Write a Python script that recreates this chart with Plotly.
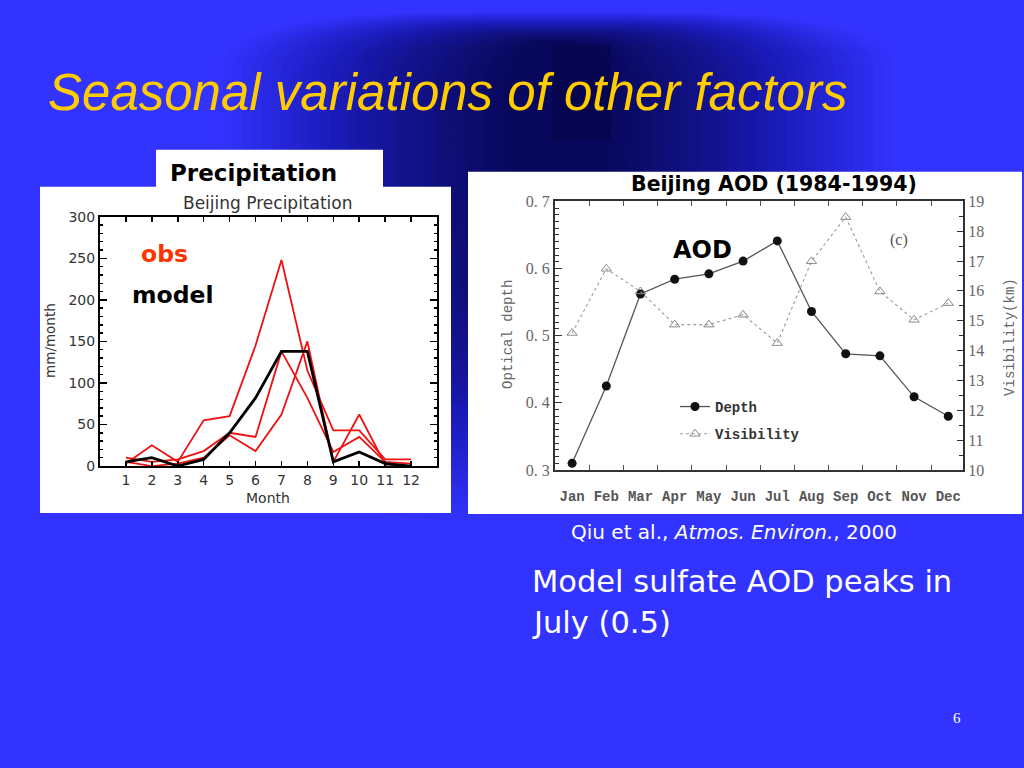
import plotly.graph_objects as go

# ---------------- data ----------------
months = list(range(1, 13))
precip_model = [5, 10, 0, 8, 40, 82, 138, 138, 5, 17, 3, 0]
precip_obs_a = [3, 25, 5, 55, 60, 145, 248, 115, 43, 43, 8, 8]
precip_obs_b = [10, 5, 8, 18, 40, 35, 138, 82, 17, 35, 5, 3]
precip_obs_c = [5, 0, 3, 10, 37, 18, 62, 150, 5, 62, 2, 0]
precip_yticks = [0, 50, 100, 150, 200, 250, 300]

month_names = ["Jan", "Feb", "Mar", "Apr", "May", "Jun",
               "Jul", "Aug", "Sep", "Oct", "Nov", "Dec"]
aod_depth = [0.310, 0.425, 0.562, 0.584, 0.592, 0.611,
             0.641, 0.536, 0.473, 0.470, 0.409, 0.380]
visibility_km = [14.59, 16.74, 15.98, 14.87, 14.87, 15.20,
                 14.25, 16.99, 18.47, 15.98, 15.03, 15.59]
aod_yticks = [0.3, 0.4, 0.5, 0.6, 0.7]
aod_yticktext = ["0. 3", "0. 4", "0. 5", "0. 6", "0. 7"]
vis_ticks = list(range(10, 20))

W, H = 1024, 768
# vertical mapping calibrated against the rendered page
Y0, YH = 8.4, 750.3
def px(x):
    return x / W
def py(y):
    return 1 - (y - Y0) / YH

BLUE = "#3333ff"
fig = go.Figure()

# ---------------- precipitation ----------------
for obs in [precip_obs_a, precip_obs_b, precip_obs_c]:
    fig.add_trace(go.Scatter(x=months, y=obs, mode="lines",
                             line=dict(color="#ee1111", width=1.8),
                             showlegend=False, cliponaxis=False, hoverinfo="skip",
                             xaxis="x", yaxis="y"))
fig.add_trace(go.Scatter(x=months, y=precip_model, mode="lines",
                         line=dict(color="black", width=2.8),
                         showlegend=False, cliponaxis=False, hoverinfo="skip",
                         xaxis="x", yaxis="y"))

# ---------------- AOD ----------------
fig.add_trace(go.Scatter(x=months, y=aod_depth, mode="lines+markers", name="Depth",
                         legendgroup="d", hoverinfo="skip",
                         line=dict(color="#555555", width=1.3),
                         marker=dict(symbol="circle", size=9, color="#111111"),
                         xaxis="x2", yaxis="y2", cliponaxis=False))
fig.add_trace(go.Scatter(x=months, y=visibility_km, mode="lines+markers", name="Visibility",
                         legendgroup="v", hoverinfo="skip",
                         line=dict(color="#9a9a9a", width=1.1, dash="dot"),
                         marker=dict(symbol="triangle-up-open", size=9, color="#8a8a8a",
                                     line=dict(width=1)),
                         xaxis="x2", yaxis="y3", cliponaxis=False))

# ---------------- background shapes ----------------
shapes = []

def rounded_path(x0, x1, top, bottom, rxt, ryt, rxb, ryb):
    P = lambda x, y: f"{px(x):.5f},{py(y):.5f}"
    return ("M " + P(x0, top + ryt) +
            " Q " + P(x0, top) + " " + P(x0 + rxt, top) +
            " L " + P(x1 - rxt, top) +
            " Q " + P(x1, top) + " " + P(x1, top + ryt) +
            " L " + P(x1, bottom - ryb) +
            " Q " + P(x1, bottom) + " " + P(x1 - rxb, bottom) +
            " L " + P(x0 + rxb, bottom) +
            " Q " + P(x0, bottom) + " " + P(x0, bottom - ryb) + " Z")

N = 30
cx = 558
for k in range(N):
    t = k / (N - 1)
    hw = 335 - 280 * t
    top = 12 + 30 * t
    bottom = 520 - 250 * t
    op = 0.022 + 0.036 * t
    shapes.append(dict(type="path", xref="paper", yref="paper",
                       path=rounded_path(cx - hw, cx + hw, top, bottom,
                                         hw * 0.75, 55, hw * 0.7, 200),
                       fillcolor="#000022", opacity=op, line=dict(width=0),
                       layer="below"))
shapes.append(dict(type="rect", xref="paper", yref="paper",
                   x0=px(552), x1=px(611), y0=py(140), y1=py(45),
                   fillcolor="#000033", opacity=0.3, line=dict(width=0), layer="below"))
# white boxes
shapes.append(dict(type="rect", xref="paper", yref="paper",
                   x0=px(40), x1=px(451), y0=py(513), y1=py(187),
                   fillcolor="white", line=dict(width=0), layer="below"))
shapes.append(dict(type="rect", xref="paper", yref="paper",
                   x0=px(156), x1=px(383), y0=py(190), y1=py(150),
                   fillcolor="white", line=dict(width=0), layer="below"))
shapes.append(dict(type="rect", xref="paper", yref="paper",
                   x0=px(468), x1=px(1022), y0=py(514), y1=py(172),
                   fillcolor="white", line=dict(width=0), layer="below"))

# ---------------- annotations ----------------
ann = []
def text(x, y, s, size, color, family="DejaVu Sans", bold=False, italic=False,
         xanchor="center", angle=0):
    ann.append(dict(x=px(x), y=py(y), xref="paper", yref="paper", text=s,
                    showarrow=False, xanchor=xanchor, yanchor="middle", textangle=angle,
                    font=dict(size=size, color=color, family=family,
                              weight="bold" if bold else "normal",
                              style="italic" if italic else "normal")))

text(46, 93, "Seasonal variations of other factors", 51, "#ffcc00",
     family="Liberation Sans", italic=True, xanchor="left")
text(253, 173, "Precipitation", 23, "black", bold=True)
text(268, 203, "Beijing Precipitation", 17, "#333333")
text(164, 254, "obs", 23.5, "#ff3300", bold=True)
text(172, 295, "model", 23.5, "black", bold=True)
text(50, 341, "mm/month", 13.5, "#333333", angle=-90)
text(268, 498, "Month", 14, "#333333")

text(774, 184, "Beijing AOD (1984-1994)", 20.5, "black", bold=True)
text(702, 250, "AOD", 24, "black", bold=True)
text(899, 240, "(c)", 16, "#555555", family="Liberation Serif")
text(508, 335, "Optical depth", 14, "#666666", family="Liberation Mono", angle=-90)
text(1010, 337, "Visibility(km)", 14, "#666666", family="Liberation Mono", angle=-90)

text(734, 532, "Qiu et al., <i>Atmos. Environ.</i>, 2000", 20, "white")
text(530, 581, "Model sulfate AOD peaks in", 30.5, "white", xanchor="left")
text(530, 622, "July (0.5)", 30.5, "white", xanchor="left")
text(957, 718, "6", 15, "white", family="Liberation Serif")

axis_font = dict(family="DejaVu Sans", size=14, color="#333333")

fig.update_layout(
    width=W, height=H, margin=dict(l=0, r=0, t=0, b=0),
    paper_bgcolor=BLUE, plot_bgcolor="white", hovermode=False,
    shapes=shapes, annotations=ann,
    xaxis=dict(domain=[px(100), px(437)], range=[0, 13], anchor="y",
               tickmode="array", tickvals=months, ticks="inside", ticklen=5,
               tickwidth=1.5, tickcolor="black", mirror="allticks", showline=True,
               linewidth=2, linecolor="black", showgrid=False, zeroline=False,
               tickfont=axis_font),
    yaxis=dict(domain=[py(466), py(217)], range=[0, 300], anchor="x",
               tickmode="array", tickvals=precip_yticks, ticks="inside", ticklen=7,
               tickwidth=1.5, tickcolor="black", mirror="allticks", showline=True,
               linewidth=2, linecolor="black", showgrid=False, zeroline=False,
               tickfont=axis_font,
               minor=dict(dtick=10, ticks="inside", ticklen=3, tickcolor="black",
                          showgrid=False)),
    xaxis2=dict(domain=[px(555), px(963)], range=[0.5, 12.43], anchor="y2",
                tickmode="array", tickvals=months, ticktext=month_names, ticks="",
                mirror="allticks", showline=True, linewidth=2, linecolor="#333333",
                showgrid=False, zeroline=False, ticklabelstandoff=12,
                tickfont=dict(family="Liberation Mono", size=14, color="#555555",
                              weight="bold"),
                minor=dict(tickmode="array", tickvals=[m + 0.5 for m in months[:-1]],
                           ticks="inside", ticklen=5, tickcolor="#555555",
                           showgrid=False)),
    yaxis2=dict(domain=[py(470), py(201.5)], range=[0.3, 0.7], anchor="x2",
                tickmode="array", tickvals=aod_yticks, ticktext=aod_yticktext,
                ticks="inside", ticklen=7, tickcolor="#333333", showline=True,
                linewidth=2, linecolor="#333333", showgrid=False, zeroline=False,
                tickfont=dict(family="Liberation Serif", size=16, color="#666666"),
                minor=dict(dtick=0.01, ticks="inside", ticklen=4, tickcolor="#333333",
                           showgrid=False)),
    yaxis3=dict(range=[10, 19], overlaying="y2", side="right", anchor="x2",
                tickmode="array", tickvals=vis_ticks, ticks="inside", ticklen=6,
                tickcolor="#333333", showline=True, linewidth=2, linecolor="#333333",
                showgrid=False, zeroline=False,
                tickfont=dict(family="Liberation Serif", size=16, color="#666666"),
                minor=dict(dtick=0.5, ticks="inside", ticklen=4, tickcolor="#333333",
                           showgrid=False)),
    legend=dict(x=px(675), y=py(391), xanchor="left", yanchor="top",
                bgcolor="rgba(0,0,0,0)", itemwidth=30, tracegroupgap=6,
                font=dict(family="Liberation Mono", size=14, color="#333333",
                          weight="bold")),
)

fig.write_html("out.html", config={"displayModeBar": False, "staticPlot": True},
               post_script="document.body.style.margin='0px';"
                           "document.body.style.overflow='hidden';")
